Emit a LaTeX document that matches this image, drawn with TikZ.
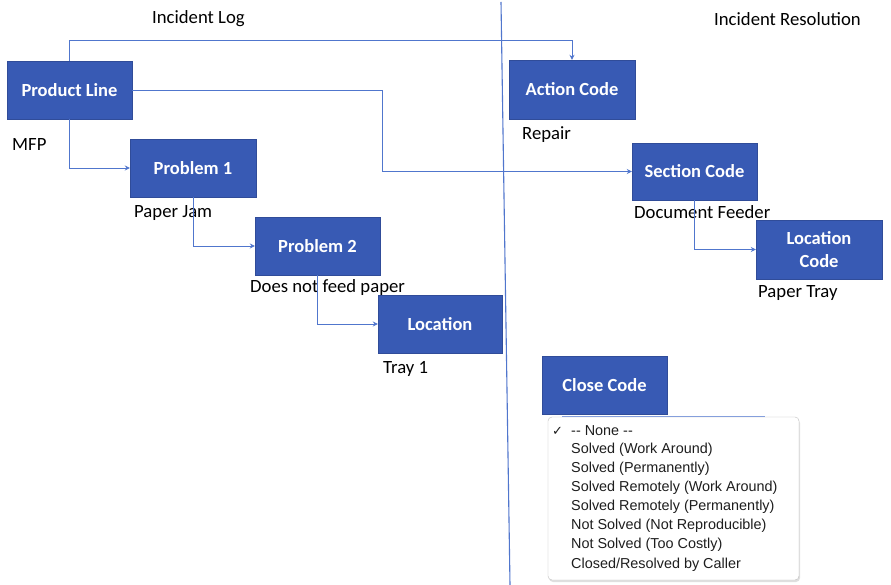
\documentclass[tikz,border=0pt]{standalone}
\usepackage{fontspec}
\setmainfont{Carlito}
\newfontfamily\uifont{Liberation Sans}
\usetikzlibrary{arrows.meta,shadows}
\definecolor{boxblue}{RGB}{56,90,180}
\definecolor{linkblue}{RGB}{80,118,205}
\definecolor{uitext}{RGB}{30,30,30}
\tikzset{
  box/.style={fill=boxblue, draw=boxblue!85!black, line width=0.4pt, text=white, font=\fontsize{18.5}{21}\selectfont\bfseries, align=center, inner sep=0pt},
  conn/.style={draw=linkblue, line width=0.9pt, -{Stealth[length=5pt,width=5pt]}},
  lbl/.style={anchor=west, inner sep=0pt, font=\fontsize{18.7}{21}\selectfont, text=black},
  opt/.style={anchor=west, inner sep=0pt, font=\uifont\fontsize{14.4}{16}\selectfont, text=uitext},
}
\begin{document}
\begin{tikzpicture}[x=1pt,y=-1pt]
\useasboundingbox (0,0) rectangle (891,585);
\fill[white] (0,0) rectangle (891,585);

% divider
\coordinate (dtop) at (501,2);
\coordinate (dbot) at (510,585);
\draw[linkblue, line width=1.1pt] (dtop) -- (dbot);

% headings
\node[lbl] (hlog) at (152,19) {Incident Log};
\node[lbl] (hres) at (714,19) {Incident Resolution};

% boxes
\node[box, minimum width=125pt, minimum height=58pt] (pl) at (69.5,90) {Product Line};
\node[box, minimum width=126pt, minimum height=58pt] (p1) at (193,168) {Problem 1};
\node[box, minimum width=125pt, minimum height=58pt] (p2) at (317.5,246) {Problem 2};
\node[box, minimum width=124pt, minimum height=58pt] (loc) at (440,324) {Location};
\node[box, minimum width=126pt, minimum height=59pt] (ac) at (572,89.5) {Action Code};
\node[box, minimum width=125pt, minimum height=57pt] (sc) at (694.5,171.5) {Section Code};
\node[box, minimum width=126pt, minimum height=59pt] (lc) at (819,249.5) {Location\\[2pt]Code};
\node[box, minimum width=125pt, minimum height=58pt] (cc) at (604.5,385) {Close Code};

% labels
\node[lbl] (mfp) at (12,145) {MFP};
\node[lbl] (pj) at (134,213) {Paper Jam};
\node[lbl] (dnf) at (250,288) {Does not feed paper};
\node[lbl] (t1) at (383,369) {Tray 1};
\node[lbl] (rep) at (522,135) {Repair};
\node[lbl] (df) at (634,212) {Document Feeder};
\node[lbl] (pt) at (758,293) {Paper Tray};

% connectors
\draw[conn] (pl.north) -- ++(0,-20) -| (ac.north);
\draw[conn] (pl.east) -- ++(250,0) |- (sc.west);
\draw[conn] (pl.south) |- (p1.west);
\draw[conn] (p1.south) |- (p2.west);
\draw[conn] (p2.south) |- (loc.west);
\draw[conn] (sc.south) |- (lc.west);

% dropdown
\node[draw=black!25, fill=white, rounded corners=4pt, drop shadow={opacity=0.25, shadow xshift=1pt, shadow yshift=-2pt},
      minimum width=251pt, minimum height=163pt, inner sep=0pt] (dd) at (673.5,498.5) {};
\coordinate (fl) at (562,416.5);
\coordinate (fr) at (765,416.5);
\draw[linkblue!70, line width=0.8pt] (fl) -- (fr);
\node[anchor=west, inner sep=0pt, font=\fontspec{DejaVu Sans}\fontsize{13}{15}\selectfont, text=uitext] (chk) at (552,431) {✓};
\node[opt] (o0) at (571,431) {-- None --};
\node[opt] (o1) at (571,450) {Solved (Work Around)};
\node[opt] (o2) at (571,469) {Solved (Permanently)};
\node[opt] (o3) at (571,488) {Solved Remotely (Work Around)};
\node[opt] (o4) at (571,507) {Solved Remotely (Permanently)};
\node[opt] (o5) at (571,526) {Not Solved (Not Reproducible)};
\node[opt] (o6) at (571,545) {Not Solved (Too Costly)};
\node[opt] (o7) at (571,565) {Closed/Resolved by Caller};
\end{tikzpicture}
\end{document}
